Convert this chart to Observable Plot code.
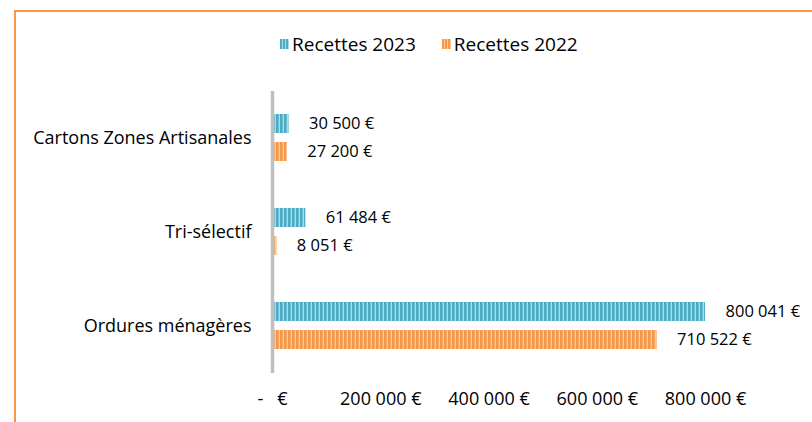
<!DOCTYPE html>
<html>
<head>
<meta charset="utf-8">
<script src="https://cdn.jsdelivr.net/npm/d3@7"></script>
<script src="https://cdn.jsdelivr.net/npm/@observablehq/plot@0.6"></script>
<style>
  html, body { margin: 0; padding: 0; background: #fff; }
  #wrap { position: relative; width: 812px; height: 422px; overflow: hidden; font-family: "Open Sans", sans-serif; }
  #frame { position: absolute; left: 14px; top: 10px; width: 820px; height: 430px; border-top: 2px solid #f79646; border-left: 2px solid #f79646; }
  #legend { position: absolute; top: 31px; left: 280px; font-size: 19px; color: #000; display: flex; align-items: center; white-space: nowrap; }
  .sw { display: inline-block; width: 9px; height: 10px; margin-right: 3px; }
  .item { display: inline-flex; align-items: center; margin-right: 26px; }
  #chart { position: absolute; left: 0; top: 0; }
</style>
</head>
<body>
<div id="wrap">
  <div id="frame"></div>
  <div id="chart"></div>
  <div id="legend"></div>
</div>
<script>
const categories = ["Cartons Zones Artisanales", "Tri-sélectif", "Ordures ménagères"];
const series = ["Recettes 2023", "Recettes 2022"];
const values2023 = [30500, 61484, 800041];
const values2022 = [27200, 8051, 710522];
const xTicks = [0, 200000, 400000, 600000, 800000];
const seriesColors = ["#4bacc6", "#f79646"];
const seriesLight = ["#a9dbe8", "#fcc89c"];

const rows = [];
categories.forEach((c, i) => {
  rows.push({category: c, series: series[0], value: values2023[i]});
  rows.push({category: c, series: series[1], value: values2022[i]});
});

const group = n => String(Math.round(n)).replace(/\B(?=(\d{3})+(?!\d))/g, "\u00a0");
const fmtValue = v => group(v) + " €";
const fmtTick = v => v === 0 ? "-   €" : group(v) + " €";

const FONT = '"Open Sans", sans-serif';

const chart = Plot.plot({
  width: 812,
  height: 422,
  marginLeft: 272,
  marginRight: 107,
  marginTop: 91,
  marginBottom: 49,
  style: {fontFamily: FONT, fontSize: "18px", color: "#000", background: "transparent"},
  x: {domain: [0, 800000], ticks: xTicks, tickFormat: fmtTick, tickSize: 0, tickPadding: 19, label: null},
  y: {domain: series, paddingInner: 0.31, paddingOuter: 0.776, axis: null},
  fy: {domain: categories, padding: 0, axis: "left", tickSize: 0, tickPadding: 21, label: null},
  marks: [
    Plot.barX(rows.filter(d => d.series === series[0]), {x: "value", y: "series", fy: "category", fill: "url(#pat0)"}),
    Plot.barX(rows.filter(d => d.series === series[1]), {x: "value", y: "series", fy: "category", fill: "url(#pat1)"}),
    Plot.ruleX([0], {stroke: "#bfbfbf", strokeWidth: 3.5}),
    Plot.text(rows, {x: "value", y: "series", fy: "category", text: d => fmtValue(d.value), dx: 20, textAnchor: "start", fill: "#000", fontSize: 16.5})
  ]
});

// stripe patterns
const ns = "http://www.w3.org/2000/svg";
const defs = document.createElementNS(ns, "defs");
seriesColors.forEach((col, i) => {
  const p = document.createElementNS(ns, "pattern");
  p.setAttribute("id", "pat" + i);
  p.setAttribute("patternUnits", "userSpaceOnUse");
  p.setAttribute("width", "4");
  p.setAttribute("height", "4");
  const r1 = document.createElementNS(ns, "rect");
  r1.setAttribute("width", "4"); r1.setAttribute("height", "4"); r1.setAttribute("fill", seriesLight[i]);
  const r2 = document.createElementNS(ns, "rect");
  r2.setAttribute("width", "2.6"); r2.setAttribute("height", "4"); r2.setAttribute("fill", col);
  p.appendChild(r1); p.appendChild(r2);
  defs.appendChild(p);
});
chart.insertBefore(defs, chart.firstChild);
document.getElementById("chart").appendChild(chart);

// legend
const legend = document.getElementById("legend");
series.forEach((s, i) => {
  const item = document.createElement("span");
  item.className = "item";
  const sw = document.createElement("span");
  sw.className = "sw";
  sw.style.background = `repeating-linear-gradient(90deg, ${seriesColors[i]} 0 2px, ${seriesLight[i]} 2px 3px)`;
  item.appendChild(sw);
  item.appendChild(document.createTextNode(s));
  legend.appendChild(item);
});
</script>
</body>
</html>
